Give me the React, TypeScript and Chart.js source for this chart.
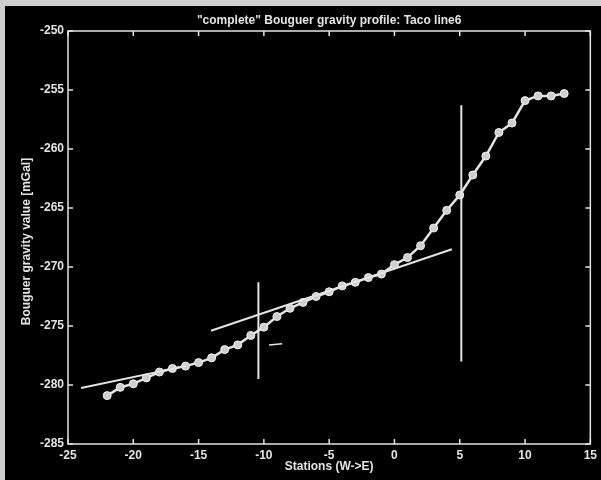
import React, { useEffect, useRef } from "react";
import { Chart, registerables } from "chart.js";

Chart.register(...registerables);

// Stations (W -> E)
const stations: number[] = [
  -22, -21, -20, -19, -18, -17, -16, -15, -14, -13, -12, -11, -10, -9, -8, -7, -6, -5,
  -4, -3, -2, -1, 0, 1, 2, 3, 4, 5, 6, 7, 8, 9, 10, 11, 12, 13,
];
// Bouguer gravity values [mGal]
const gravity: number[] = [
  -280.9, -280.2, -279.9, -279.4, -278.9, -278.6, -278.4, -278.1, -277.7, -277.0, -276.6,
  -275.8, -275.1, -274.2, -273.5, -273.0, -272.5, -272.1, -271.6, -271.3, -270.9, -270.6,
  -269.8, -269.2, -268.2, -266.7, -265.2, -263.9, -262.2, -260.6, -258.6, -257.8, -255.9,
  -255.5, -255.5, -255.3,
];
// Regional trend lines (x, y endpoints)
const leftFitX: number[] = [-24, -16];
const leftFitY: number[] = [-280.25, -278.4];
const midFitX: number[] = [-14.05, 4.4];
const midFitY: number[] = [-275.4, -268.5];
// Vertical markers
const vline1X: number[] = [-10.42, -10.42];
const vline1Y: number[] = [-271.3, -279.5];
const vline2X: number[] = [5.12, 5.12];
const vline2Y: number[] = [-256.3, -278.0];
// small dash artifact
const dashX: number[] = [-9.6, -8.6];
const dashY: number[] = [-276.6, -276.5];

const xTicks: number[] = [-25, -20, -15, -10, -5, 0, 5, 10, 15];
const yTicks: number[] = [-250, -255, -260, -265, -270, -275, -280, -285];

const titleText = "\"complete\" Bouguer gravity profile: Taco line6";
const xLabel = "Stations (W->E)";
const yLabel = "Bouguer gravity value [mGal]";

const FG = "#e4e4e4";
const FONT = "'Liberation Sans', Arial, sans-serif";

const pairs = (xs: number[], ys: number[]) => xs.map((x, i) => ({ x, y: ys[i] }));

const framePlugin = {
  id: "framePlugin",
  beforeDraw(chart: any) {
    const ctx = chart.ctx;
    ctx.save();
    ctx.fillStyle = "#cfcfcf";
    ctx.fillRect(0, 0, chart.width, chart.height);
    ctx.fillStyle = "#000000";
    ctx.fillRect(5, 6, chart.width - 5, chart.height - 6);
    ctx.restore();
  },
  afterDraw(chart: any) {
    const ctx = chart.ctx;
    const a = chart.chartArea;
    const xs = chart.scales.x;
    const ys = chart.scales.y;
    ctx.save();
    ctx.strokeStyle = FG;
    ctx.lineWidth = 1.5;
    ctx.strokeRect(a.left, a.top, a.right - a.left, a.bottom - a.top);
    const tl = 5;
    ctx.beginPath();
    xTicks.forEach((v) => {
      const px = xs.getPixelForValue(v);
      ctx.moveTo(px, a.bottom);
      ctx.lineTo(px, a.bottom - tl);
      ctx.moveTo(px, a.top);
      ctx.lineTo(px, a.top + tl);
    });
    yTicks.forEach((v) => {
      const py = ys.getPixelForValue(v);
      ctx.moveTo(a.left, py);
      ctx.lineTo(a.left + tl, py);
      ctx.moveTo(a.right, py);
      ctx.lineTo(a.right - tl, py);
    });
    ctx.stroke();

    ctx.fillStyle = FG;
    ctx.font = `bold 12px ${FONT}`;
    ctx.textAlign = "center";
    ctx.textBaseline = "middle";
    const cx = (a.left + a.right) / 2;
    ctx.fillText(titleText, cx, 21);
    ctx.fillText(xLabel, cx, 467);
    ctx.translate(27, (a.top + a.bottom) / 2 + 4);
    ctx.rotate(-Math.PI / 2);
    ctx.fillText(yLabel, 0, 0);
    ctx.restore();
  },
};

export default function App() {
  const ref = useRef<HTMLCanvasElement | null>(null);
  useEffect(() => {
    if (!ref.current) return;
    const lineDs = (data: any[], width = 2) => ({
      data,
      showLine: true,
      borderColor: FG,
      borderWidth: width,
      pointRadius: 0,
      fill: false,
    });
    const chart = new Chart(ref.current, {
      type: "scatter",
      data: {
        datasets: [
          lineDs(pairs(leftFitX, leftFitY), 2),
          lineDs(pairs(midFitX, midFitY), 2),
          lineDs(pairs(vline1X, vline1Y), 2),
          lineDs(pairs(vline2X, vline2Y), 2),
          lineDs(pairs(dashX, dashY), 1.5),
          {
            data: pairs(stations, gravity),
            showLine: true,
            borderColor: FG,
            borderWidth: 2.5,
            pointRadius: 4,
            pointStyle: "circle",
            pointBackgroundColor: "#cfcfcf",
            pointBorderColor: "#f2f2f2",
            pointBorderWidth: 1,
            fill: false,
          },
        ],
      },
      options: {
        responsive: false,
        animation: false,
        events: [],
        layout: { padding: { left: 0, right: 9, top: 31, bottom: 0 } },
        plugins: { legend: { display: false }, title: { display: false }, tooltip: { enabled: false } },
        scales: {
          x: {
            type: "linear",
            min: -25,
            max: 15,
            afterBuildTicks: (s: any) => {
              s.ticks = xTicks.map((v) => ({ value: v }));
            },
            afterFit: (s: any) => {
              s.height = 36;
            },
            grid: { display: false, drawTicks: false },
            border: { display: false },
            ticks: {
              color: FG,
              font: { family: FONT, size: 12, weight: "bold" },
              padding: 4,
              maxRotation: 0,
              autoSkip: false,
              callback: (v: any) => String(v),
            },
          },
          y: {
            type: "linear",
            min: -285,
            max: -250,
            afterBuildTicks: (s: any) => {
              s.ticks = yTicks.map((v) => ({ value: v }));
            },
            afterFit: (s: any) => {
              s.width = 68;
            },
            grid: { display: false, drawTicks: false },
            border: { display: false },
            ticks: {
              color: FG,
              font: { family: FONT, size: 12, weight: "bold" },
              padding: 4,
              autoSkip: false,
              callback: (v: any) => String(v),
            },
          },
        },
      },
      plugins: [framePlugin],
    } as any);
    return () => chart.destroy();
  }, []);
  return (
    <div style={{ position: "fixed", left: 0, top: 0, width: 601, height: 480, background: "#000" }}>
      <canvas ref={ref} width={601} height={480} style={{ width: 601, height: 480, display: "block" }} />
    </div>
  );
}
